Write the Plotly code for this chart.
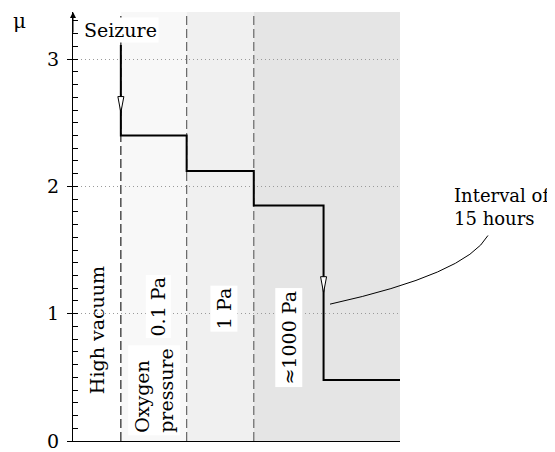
"""
Friction coefficient after seizure under decreasing vacuum (step chart).
"""

import plotly.graph_objects as go

# region boundaries along the (unitless) time axis
region_edges = [0.0, 0.72, 1.71, 2.72, 4.92]
region_fills = ["rgba(0,0,0,0)", "#f8f8f8", "#f0f0f0", "#e5e5e5"]

# friction coefficient steps: start of seizure, then one level per region
step_x = [0.72, 0.72, 1.71, 2.72, 3.77, 4.92]
step_mu = [3.11, 2.40, 2.12, 1.85, 0.48, 0.48]

region_labels = ["High vacuum", "Oxygen<br>pressure", "1 Pa", "≈1000 Pa"]
pressure_label = "0.1 Pa"

FONT = "DejaVu Serif"
FS = 19
Y_TOP = 3.37
X_PX = 66.5   # px per x unit
Y_PX = 127.3  # px per y unit


def arrow_head(x, y_tip, half_w=3, h=16):
    """Narrow open arrowhead pointing down, sized in pixels."""
    dx = half_w / X_PX
    dy = h / Y_PX
    return dict(
        type="path", xref="x", yref="y",
        path=f"M {x - dx},{y_tip + dy} L {x},{y_tip} L {x + dx},{y_tip + dy} Z",
        fillcolor="white", line=dict(color="black", width=1), layer="above",
    )


fig = go.Figure()

# step line (hv: vertical drops at each region boundary)
fig.add_trace(go.Scatter(
    x=step_x, y=step_mu, mode="lines", line_shape="hv",
    line=dict(color="black", width=2), showlegend=False, hoverinfo="skip",
))
# invisible trace on the overlay axis that carries the minor ticks
fig.add_trace(go.Scatter(
    x=[step_x[0]], y=[step_mu[0]], yaxis="y2", mode="markers",
    marker=dict(opacity=0), showlegend=False, hoverinfo="skip",
))

shapes = []
for x0, x1, col in zip(region_edges[:-1], region_edges[1:], region_fills):
    shapes.append(dict(type="rect", xref="x", yref="y", x0=x0, x1=x1, y0=0, y1=Y_TOP,
                       fillcolor=col, line=dict(width=0), layer="below"))
for i, xb in enumerate(region_edges[1:-1]):
    shapes.append(dict(type="line", xref="x", yref="y", x0=xb, x1=xb, y0=0, y1=Y_TOP,
                       line=dict(color="#222" if i == 0 else "#666", width=1.2,
                                 dash="9px,4px"),
                       layer="below"))

# arrowheads on the seizure line and the 15-hour drop
shapes.append(arrow_head(step_x[0], 2.58))
shapes.append(arrow_head(step_x[4], (step_mu[3] + step_mu[4]) / 2))

# curved leader from "Interval of 15 hours" to the drop
shapes.append(dict(type="path", xref="paper", yref="paper",
                   path="M 1.269,0.479 Q 1.202,0.389 0.786,0.319",
                   line=dict(color="black", width=1)))

annotations = []
# region labels, rotated
lbl_x = [
    (region_edges[0] + region_edges[1]) / 2,
    (region_edges[1] + region_edges[2]) / 2,
    (region_edges[2] + region_edges[3]) / 2 + 0.05,
    (region_edges[3] + step_x[4]) / 2,
]
lbl_y = [0.87, 0.40, 1.04, 0.81]
lbl_bg = [None, "white", "white", "white"]
for x, y, t, bg in zip(lbl_x, lbl_y, region_labels, lbl_bg):
    annotations.append(dict(
        x=x, y=y, xref="x", yref="y", text=t, showarrow=False, textangle=-90,
        align="left", bgcolor=bg, borderpad=2,
        font=dict(family=FONT, size=FS, color="black"),
    ))
annotations.append(dict(
    x=lbl_x[1] + 0.07, y=1.06, xref="x", yref="y", text=pressure_label,
    showarrow=False, textangle=-90, bgcolor="white", borderpad=1,
    font=dict(family=FONT, size=FS, color="black"),
))
annotations.append(dict(
    x=step_x[0], y=3.23, xref="x", yref="y", text="Seizure", showarrow=False,
    bgcolor="white", borderpad=1, font=dict(family=FONT, size=FS, color="black"),
))
annotations.append(dict(
    x=1.159, y=0.545, xref="paper", yref="paper", text="Interval of<br>15 hours",
    showarrow=False, xanchor="left", yanchor="middle", align="left",
    font=dict(family=FONT, size=18, color="black"),
))
annotations.append(dict(
    x=-0.19, y=1.012, xref="paper", yref="paper", text="μ", showarrow=False,
    font=dict(family=FONT, size=20, color="black"),
))
# arrow tip on top of the y axis
annotations.append(dict(
    x=0, y=Y_TOP, xref="x", yref="y", ax=0, ay=22, showarrow=True,
    arrowhead=2, arrowsize=1.2, arrowwidth=1, arrowcolor="black", text="",
))

fig.update_layout(
    width=555, height=452,
    margin=dict(l=65, r=163, t=4, b=19),
    paper_bgcolor="white", plot_bgcolor="white",
    font=dict(family=FONT, size=FS, color="black"),
    shapes=shapes, annotations=annotations,
    xaxis=dict(range=[0, region_edges[-1]], showline=True, linecolor="black",
               linewidth=1, showticklabels=False, ticks="", showgrid=False,
               zeroline=False, fixedrange=True),
    yaxis=dict(range=[0, Y_TOP], showline=True, linecolor="black", linewidth=1,
               tick0=0, dtick=1, ticks="outside", ticklen=5, tickcolor="black",
               showgrid=True, gridcolor="#9a9a9a", griddash="1px,3px", gridwidth=1,
               zeroline=False, ticklabelstandoff=4, fixedrange=True),
    yaxis2=dict(range=[0, Y_TOP], overlaying="y", side="left", anchor="x",
                tick0=0, dtick=0.1, ticks="inside", ticklen=5, tickcolor="black",
                showticklabels=False, showgrid=False, zeroline=False,
                showline=False, fixedrange=True),
)

fig.write_html("out.html")
